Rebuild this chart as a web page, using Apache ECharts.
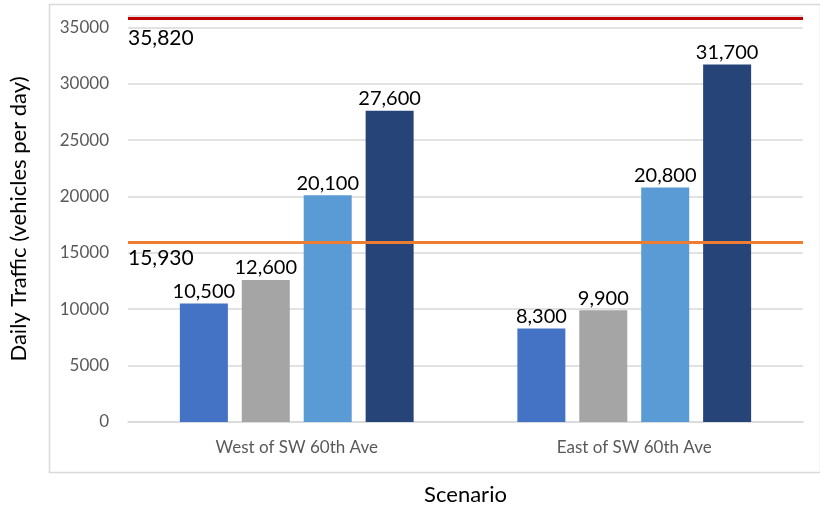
<!DOCTYPE html>
<html>
<head>
<meta charset="utf-8">
<script src="https://cdn.jsdelivr.net/npm/echarts@6/dist/echarts.min.js"></script>
</head>
<body style="margin:0">
<div id="chart" style="width:820px;height:512px;"></div>
<script type="text/javascript">
var categories = ['West of SW 60th Ave', 'East of SW 60th Ave'];
var series1 = [10500, 8300];
var series2 = [12600, 9900];
var series3 = [20100, 20800];
var series4 = [27600, 31700];
var barColors = ['#4472C4', '#A5A5A5', '#5B9BD5', '#264478'];
var capacityHigh = 35820;
var capacityLow = 15930;

var myChart = echarts.init(document.getElementById('chart'));
var font = 'Lato, "Liberation Sans", sans-serif';
function fmt(v) { return v.toLocaleString('en-US'); }

var barData = [series1, series2, series3, series4];
var series = barData.map(function (d, i) {
    return {
        type: 'bar',
        data: d,
        barWidth: 48,
        barGap: '29%',
        itemStyle: { color: barColors[i] },
        label: {
            show: true, position: 'top', distance: 2, color: '#000',
            fontFamily: font, fontSize: 20,
            formatter: function (p) { return fmt(p.value); }
        }
    };
});
series[0].markLine = {
    silent: true,
    symbol: 'none',
    data: [
        { yAxis: capacityHigh, lineStyle: { color: '#C00000', width: 3, type: 'solid' },
          label: { distance: [0, 10] } },
        { yAxis: capacityLow, lineStyle: { color: '#ED7D31', width: 3, type: 'solid' },
          label: { distance: [0, 5] } }
    ],
    label: {
        position: 'insideStartBottom', color: '#000',
        fontFamily: font, fontSize: 21,
        formatter: function (p) { return fmt(p.value); }
    }
};

var option = {
    animation: false,
    grid: { left: 127, right: 17, top: 16, bottom: 90 },
    graphic: [{
        type: 'rect', left: 47, top: 2,
        shape: { width: 771, height: 468 },
        style: { fill: 'none', stroke: '#d9d9d9', lineWidth: 1.5 },
        z: -1
    }],
    xAxis: {
        type: 'category',
        data: categories,
        axisLine: { lineStyle: { color: '#d9d9d9', width: 1.5 } },
        axisTick: { show: false },
        axisLabel: { color: '#595959', fontFamily: font, fontSize: 17, margin: 17 },
        name: 'Scenario',
        nameLocation: 'middle',
        nameGap: 62,
        nameTextStyle: { color: '#000', fontFamily: font, fontSize: 22 }
    },
    yAxis: {
        type: 'value',
        min: 0, max: 36000, interval: 5000,
        axisLine: { show: false },
        axisTick: { show: false },
        axisLabel: { color: '#595959', fontFamily: font, fontSize: 17, margin: 19,
                     showMaxLabel: false, formatter: function (v) { return String(v); } },
        splitLine: { lineStyle: { color: '#d9d9d9', width: 1.5 } },
        name: 'Daily Traffic (vehicles per day)',
        nameLocation: 'middle',
        nameGap: 98,
        nameTextStyle: { color: '#000', fontFamily: font, fontSize: 22 }
    },
    series: series
};
myChart.setOption(option);
</script>
</body>
</html>
